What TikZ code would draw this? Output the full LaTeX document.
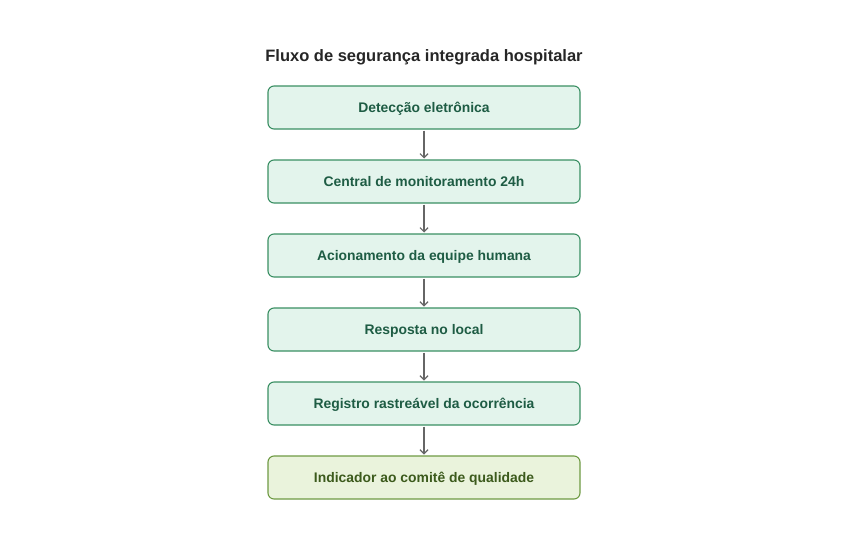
\documentclass[tikz,border=0pt]{standalone}
\usepackage{fontspec}
\setmainfont{Liberation Sans}
\usetikzlibrary{arrows.meta,positioning}

\definecolor{stepfill}{HTML}{E3F4EC}
\definecolor{stepline}{HTML}{3A8F63}
\definecolor{steptext}{HTML}{1E5C44}
\definecolor{lastfill}{HTML}{EAF3DC}
\definecolor{lastline}{HTML}{6E9A43}
\definecolor{lasttext}{HTML}{3C5A1C}
\definecolor{arrowgray}{HTML}{666666}

\begin{document}
\begin{tikzpicture}[
  x=1pt,y=1pt,
  node distance=31pt,
  stage/.style={rectangle,rounded corners=6pt,draw=stepline,line width=1.1pt,
    fill=stepfill,text=steptext,font=\bfseries\fontsize{13.9}{16}\selectfont,
    minimum width=312pt,minimum height=43pt,inner sep=0pt,outer sep=0pt,
    text height=10pt,text depth=1pt,align=center},
  final/.style={stage,draw=lastline,fill=lastfill,text=lasttext},
  flow/.style={-{Straight Barb[length=4pt,width=8pt]},line width=1.2pt,
    draw=arrowgray,shorten >=1.5pt,shorten <=1.5pt}
]
  \useasboundingbox (0,0) rectangle (847,-557);

  \node[font=\bfseries\fontsize{16.5}{19}\selectfont,text=black!85] (title) at (424,-57)
    {Fluxo de segurança integrada hospitalar};

  \node[stage] (detect) at (424,-107.5) {Detecção eletrônica};
  \node[stage,below=of detect] (central) {Central de monitoramento 24h};
  \node[stage,below=of central] (team) {Acionamento da equipe humana};
  \node[stage,below=of team] (onsite) {Resposta no local};
  \node[stage,below=of onsite] (record) {Registro rastreável da ocorrência};
  \node[final,below=of record] (quality) {Indicador ao comitê de qualidade};

  \draw[flow] (detect) -- (central);
  \draw[flow] (central) -- (team);
  \draw[flow] (team) -- (onsite);
  \draw[flow] (onsite) -- (record);
  \draw[flow] (record) -- (quality);
\end{tikzpicture}
\end{document}
